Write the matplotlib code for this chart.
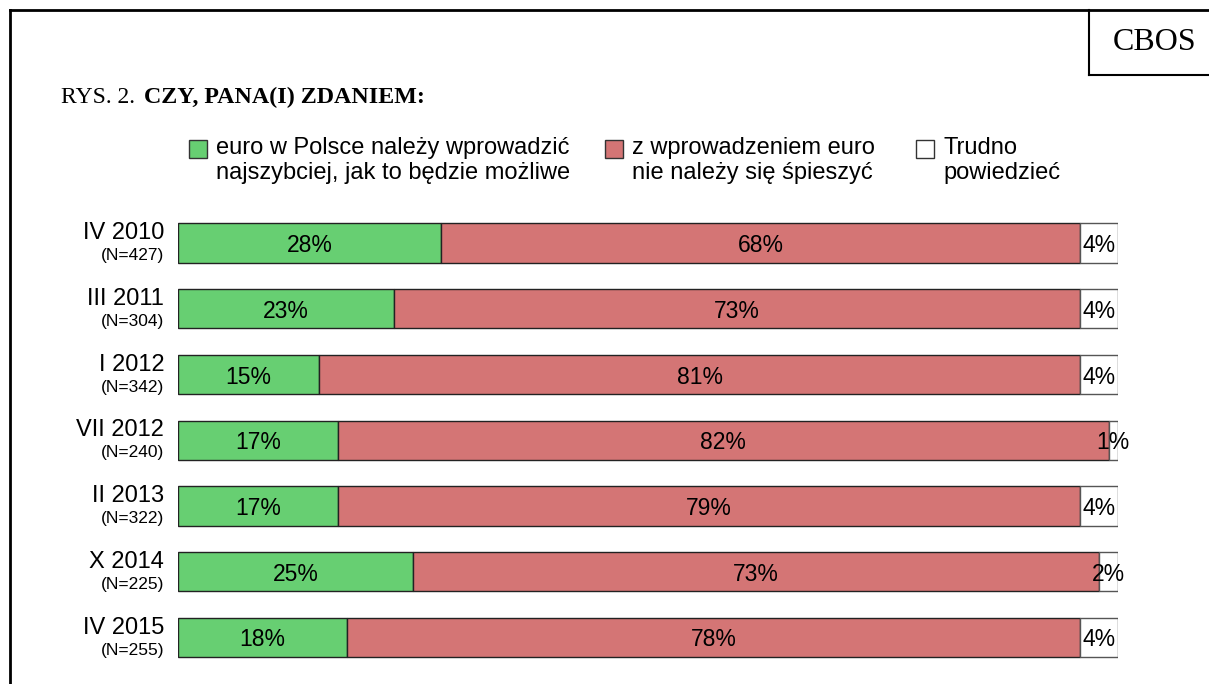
import matplotlib
matplotlib.use("Agg")
import matplotlib.pyplot as plt
from matplotlib.patches import Rectangle

# survey waves
waves = ["IV 2010", "III 2011", "I 2012", "VII 2012", "II 2013", "X 2014", "IV 2015"]
sizes = ["(N=427)", "(N=304)", "(N=342)", "(N=240)", "(N=322)", "(N=225)", "(N=255)"]

fast = [28, 23, 15, 17, 17, 25, 18]
no_hurry = [68, 73, 81, 82, 79, 73, 78]
dont_know = [4, 4, 4, 1, 4, 2, 4]

legend_labels = [["euro w Polsce należy wprowadzić", "najszybciej, jak to będzie możliwe"],
                 ["z wprowadzeniem euro", "nie należy się śpieszyć"],
                 ["Trudno", "powiedzieć"]]

colors = ["#67cf72", "#d47575", "#ffffff"]
edges = ["#222222", "#222222", "#555555"]

W, H = 1209, 684
DPI = 100
fig = plt.figure(figsize=(W / DPI, H / DPI), dpi=DPI)
plt.rcParams['font.family'] = ['Liberation Sans', 'DejaVu Sans']
serif = ['Liberation Serif', 'DejaVu Serif']


def fx(px):
    return px / W


def fy(py):
    return 1 - py / H


# outer frame and CBOS box (pixel positions converted to figure coords)
fig.add_artist(plt.Line2D([fx(10), fx(10)], [fy(10), 0], color="black", lw=2))
fig.add_artist(plt.Line2D([fx(10), 1], [fy(10), fy(10)], color="black", lw=2))
fig.add_artist(plt.Line2D([fx(1089), fx(1089)], [fy(10), fy(75)], color="black", lw=1.5))
fig.add_artist(plt.Line2D([fx(1089), 1], [fy(75), fy(75)], color="black", lw=1.5))
fig.text(fx(1155), fy(42), "CBOS", family=serif, fontsize=23, ha="center", va="center")

fig.text(fx(61), fy(103), "RYS. 2.", family=serif, fontsize=17, va="baseline")
fig.text(fx(144), fy(103), "CZY, PANA(I) ZDANIEM:", family=serif, fontsize=17.3,
         fontweight="bold", va="baseline")

# legend
leg_x = [189, 605, 916]
for i, lab in enumerate(legend_labels):
    fig.add_artist(Rectangle((fx(leg_x[i]), fy(158)), fx(18), 18 / H, facecolor=colors[i],
                             edgecolor="#333333", lw=1, transform=fig.transFigure))
    fig.text(fx(leg_x[i] + 27), fy(154), lab[0], fontsize=17, va="baseline", ha="left")
    fig.text(fx(leg_x[i] + 27), fy(179), lab[1], fontsize=17, va="baseline", ha="left")

# bars
row_h = 65.75
ax = fig.add_axes([fx(178), (H - (243 + 6 * row_h + row_h / 2)) / H, fx(940), 7 * row_h / H])
ax.set_xlim(0, 100)
ax.set_ylim(6.5, -0.5)
ax.axis("off")

y = list(range(len(waves)))
left = [0] * len(waves)
for vals, c, e in zip([fast, no_hurry, dont_know], colors, edges):
    ax.barh(y, vals, left=left, height=0.6, color=c, edgecolor=e, lw=1)
    for i, v in enumerate(vals):
        ax.text(left[i] + v / 2, i + 9 / row_h, f"{v}%", ha="center", va="baseline",
                fontsize=16.5)
    left = [l + v for l, v in zip(left, vals)]

for i in y:
    ax.text(-1.45, i - 4 / row_h, waves[i], ha="right", va="baseline", fontsize=17)
    ax.text(-1.45, i + 17 / row_h, sizes[i], ha="right", va="baseline", fontsize=12.5)

plt.savefig("out.png", dpi=DPI)
